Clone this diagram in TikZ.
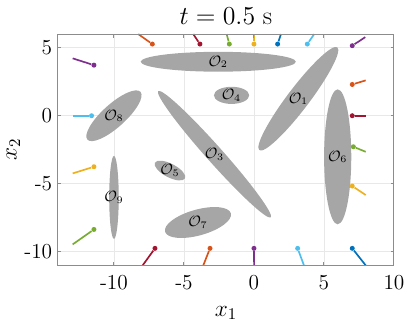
\documentclass[tikz,border=0pt]{standalone}
\usepackage{fix-cm}
\usepackage{amsmath,amssymb}
\usepackage{xcolor}
\usepackage{tikz}

\definecolor{mblue}{rgb}{0,0.447,0.741}
\definecolor{morange}{rgb}{0.850,0.325,0.098}
\definecolor{myellow}{rgb}{0.929,0.694,0.125}
\definecolor{mpurple}{rgb}{0.494,0.184,0.556}
\definecolor{mgreen}{rgb}{0.466,0.674,0.188}
\definecolor{mcyan}{rgb}{0.301,0.745,0.933}
\definecolor{mred}{rgb}{0.635,0.078,0.184}
\definecolor{obsgray}{rgb}{0.65,0.65,0.65}
\definecolor{gridgray}{rgb}{0.91,0.91,0.91}
\definecolor{axgray}{rgb}{0.55,0.55,0.55}

\begin{document}
\begin{tikzpicture}[x=8.4pt,y=8.16pt,
		obst/.style={fill=obsgray,draw=none},
		olabel/.style={font=\fontsize{9}{10}\selectfont,inner sep=0pt},
		agent/.style={circle,fill=#1,draw=none,inner sep=0pt,minimum size=3pt},
		trail/.style={draw=#1,line width=1pt},
		ticklabel/.style={font=\fontsize{12.8}{15}\selectfont,inner sep=0pt},
		axlabel/.style={font=\fontsize{14}{16}\selectfont,inner sep=0pt},
		gridline/.style={draw=gridgray,line width=0.5pt},
		axline/.style={draw=axgray,line width=0.6pt}]
			\def\xmin{-14}
			\def\xmax{10}
			\def\ymin{-11}
			\def\ymax{6}
			\def\obstacles{1/3.17/1.25/4.61/0.8/52.8,2/-2.55/3.97/5.54/0.73/0,3/-2.82/-2.83/6.04/0.6/-48.3,4/-1.6/1.5/1.26/0.63/0,5/-6/-4.03/1.21/0.5/-27.5,6/5.98/-3.02/0.97/4.96/0,7/-4.0/-7.85/2.44/0.95/15.6,8/-10/0/2.55/0.85/42,9/-10/-6/0.34/3.05/0}
			
			\useasboundingbox (-18.14,-15.24) rectangle (10.93,8.51);
			
			\foreach \g in {-10,-5,0,5}{
				\draw[gridline] (\g,\ymin) -- (\g,\ymax);
				\draw[gridline] (\xmin,\g) -- (\xmax,\g);
			}
			
			\foreach \n/\cx/\cy/\ra/\rb/\ang in \obstacles
				\fill[obst,rotate around={\ang:(\cx,\cy)}] (\cx,\cy) ellipse ({\ra} and {\rb});
			\foreach \n/\cx/\cy/\ra/\rb/\ang in \obstacles
				\node[olabel] (obs\n) at (\cx,\cy) {$\mathcal{O}_{\n}$};
			
			\foreach \c/\px/\py/\tx/\ty [count=\k] in {mpurple/-11.43/3.72/-12.95/4.22,morange/-7.26/5.27/-8.26/6,mred/-3.86/5.27/-4.33/6,mgreen/-1.76/5.27/-1.95/6,myellow/0/5.27/0/6,mblue/1.69/5.27/1.93/6,mcyan/3.81/5.27/4.3/6,mpurple/7.02/5.15/7.95/5.78,morange/7.02/2.3/7.98/2.6,mred/7.02/0/7.98/0,mgreen/7.1/-2.28/7.98/-2.65,myellow/7.02/-5.17/7.98/-5.83,mblue/7.02/-9.75/7.98/-11,mcyan/3.12/-9.75/3.57/-11,mpurple/0/-9.75/0/-11,morange/-3.14/-9.75/-3.62/-11,mred/-7.07/-9.75/-7.95/-11,mgreen/-11.43/-8.36/-12.95/-9.46,myellow/-11.43/-3.75/-12.95/-4.24,mcyan/-11.6/0/-12.95/0}{
				\coordinate (tail\k) at (\tx,\ty);
				\node[agent=\c] (agent\k) at (\px,\py) {};
				\draw[trail=\c] (agent\k) -- (tail\k);
			}
			
			\draw[axline] (\xmin,\ymin) rectangle (\xmax,\ymax);
			\foreach \g in {-10,-5,0,5}{
				\draw[axline] (\g,\ymin) -- ++(0,0.25);
				\draw[axline] (\g,\ymax) -- ++(0,-0.25);
				\draw[axline] (\xmin,\g) -- ++(0.24,0);
				\draw[axline] (\xmax,\g) -- ++(-0.24,0);
			}
			
			\foreach \g [count=\k] in {-10,-5,0,5,10}
				\node[ticklabel,anchor=base] (xtick\k) at (\g,-12.79) {\g};
			\foreach \g [count=\k] in {5,0,-5,-10}
				\node[ticklabel,anchor=east] (ytick\k) at (-14.39,\g) {\g};
			
			\node[axlabel,anchor=base] (xlab) at (-2,-14.76) {$x_1$};
			\node[axlabel,anchor=base,rotate=90] (ylab) at (-16.96,-2.5) {$x_2$};
			\node[font=\fontsize{15.5}{18}\selectfont,inner sep=0pt,anchor=base] (title) at (-2,6.74) {$t=0.5$ s};
		\end{tikzpicture}
\end{document}
